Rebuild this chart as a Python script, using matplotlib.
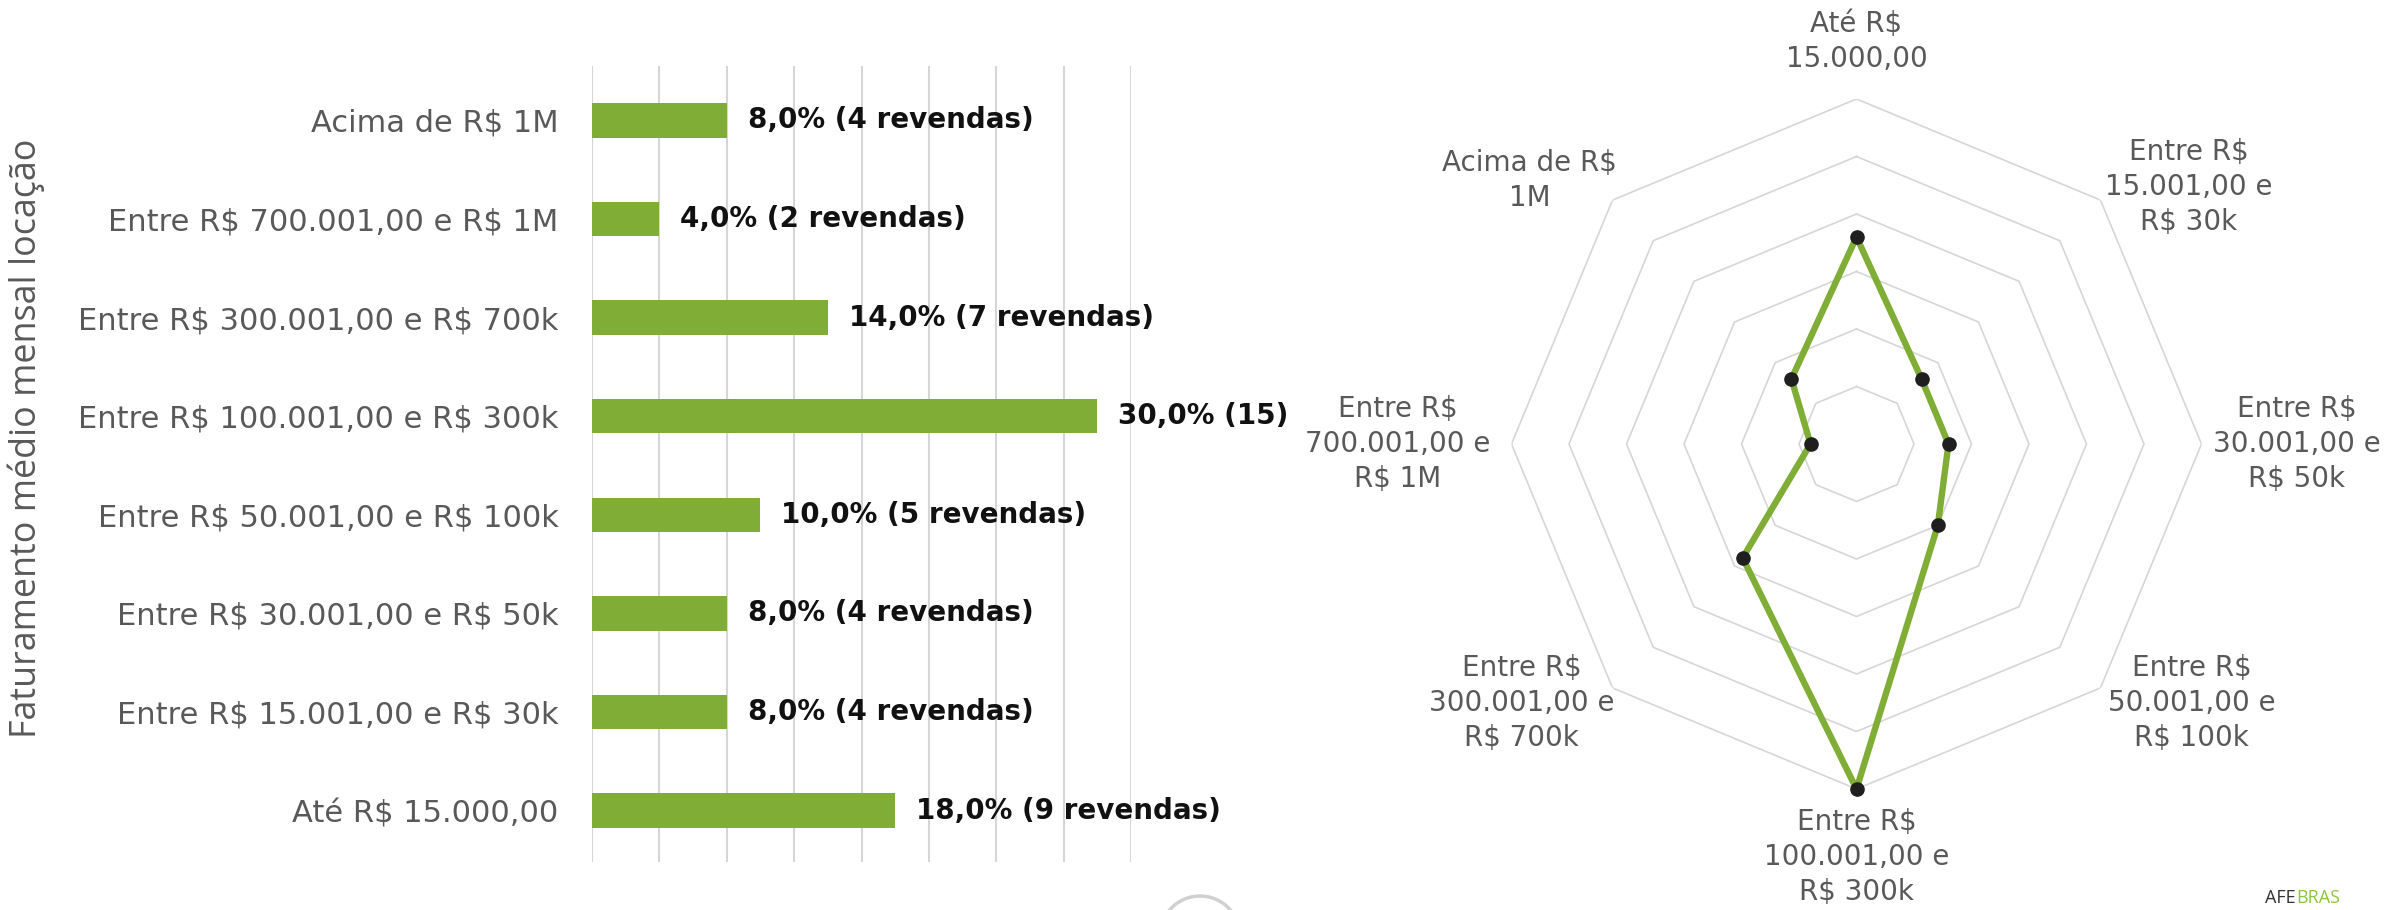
import textwrap
import numpy as np
import matplotlib
matplotlib.use("Agg")
import matplotlib.pyplot as plt
from matplotlib.patches import Circle

plt.rcParams["text.parse_math"] = False

# categories, bottom to top (bar chart) == clockwise from top (radar)
categories = [
    "Até R$ 15.000,00",
    "Entre R$ 15.001,00 e R$ 30k",
    "Entre R$ 30.001,00 e R$ 50k",
    "Entre R$ 50.001,00 e R$ 100k",
    "Entre R$ 100.001,00 e R$ 300k",
    "Entre R$ 300.001,00 e R$ 700k",
    "Entre R$ 700.001,00 e R$ 1M",
    "Acima de R$ 1M",
]
percent = [18.0, 8.0, 8.0, 10.0, 30.0, 14.0, 4.0, 8.0]
revendas = [9, 4, 4, 5, 15, 7, 2, 4]
value_labels = [
    "18,0% (9 revendas)",
    "8,0% (4 revendas)",
    "8,0% (4 revendas)",
    "10,0% (5 revendas)",
    "30,0% (15)",
    "14,0% (7 revendas)",
    "4,0% (2 revendas)",
    "8,0% (4 revendas)",
]
y_title = "Faturamento médio mensal locação"
radar_rings = [5, 10, 15, 20, 25, 30]

GREEN = "#80AD35"
GREY_TXT = "#595959"
GRID = "#d6d6d6"
FONT = "DejaVu Sans"

W, H = 2386, 910
fig = plt.figure(figsize=(W / 100, H / 100), dpi=100)

# ---------- bar chart ----------
ax = fig.add_axes([592 / W, 48 / H, 539 / W, 796 / H])
ypos = np.arange(len(categories))
ax.barh(ypos, percent, height=0.35, color=GREEN, zorder=3)
ax.set_xlim(0, 32)
ax.set_ylim(-0.52, 7.55)
ax.set_xticks(np.arange(0, 33, 4))
ax.set_xticklabels([])
ax.tick_params(axis="x", length=0)
ax.tick_params(axis="y", length=0, pad=24)
ax.set_yticks(ypos)
ax.set_yticklabels(categories, fontsize=22, color=GREY_TXT, family=FONT)
ax.grid(axis="x", color=GRID, linewidth=1.5, zorder=0)
for s in ax.spines.values():
    s.set_visible(False)
for y, v, lab in zip(ypos, percent, value_labels):
    ax.annotate(lab, (v, y), xytext=(15, 0), textcoords="offset points",
                va="center", ha="left", fontsize=20, fontweight="bold",
                color="#111111", family=FONT)

fig.text(26 / W, 1 - 438 / H, y_title, rotation=90, ha="center", va="center",
         fontsize=25.8, color=GREY_TXT, family="Open Sans")

# ---------- radar chart ----------
cx, cy, R = 1856.5, 444, 345
rax = fig.add_axes([(cx - R) / W, (H - cy - R) / H, 2 * R / W, 2 * R / H],
                   projection="polar")
rax.set_theta_zero_location("N")
rax.set_theta_direction(-1)
rax.set_ylim(0, 30)
rax.grid(False)
rax.spines["polar"].set_visible(False)
rax.set_xticks([])
rax.set_yticks([])
rax.patch.set_alpha(0)

n = len(categories)
theta = np.linspace(0, 2 * np.pi, n, endpoint=False)
theta_c = np.append(theta, theta[0])
for ring in radar_rings:
    rax.plot(theta_c, [ring] * (n + 1), color=GRID, linewidth=1.2, zorder=1)

vals = np.append(percent, percent[0])
rax.plot(theta_c, vals, color=GREEN, linewidth=4.6, zorder=3,
         solid_joinstyle="miter", clip_on=False)
rax.plot(theta, percent, "o", color="#1f1f1f", markersize=9.5, zorder=4,
         clip_on=False)

# label placement (theta in degrees clockwise from top, radius in data units)
lab_theta = [0, 52.3, 90, 127.7, 180, 232.3, 270, 308.9]
lab_r = [35.0, 36.5, 38.3, 36.8, 35.9, 36.8, 39.9, 36.5]
for cat, t, r in zip(categories, lab_theta, lab_r):
    rax.text(np.deg2rad(t), r, textwrap.fill(cat, 12), ha="center", va="center",
             multialignment="center", fontsize=20, color=GREY_TXT, family=FONT,
             linespacing=1.32, clip_on=False)

# decorative bits at the bottom edge (page widget + logo)
fig.patches.append(Circle((12.0, -0.26), 0.40, transform=fig.dpi_scale_trans,
                          facecolor="white", edgecolor="#d0d0d0", linewidth=2.5))
fig.text(2296 / W, 3 / H, "AFE", color="#333333", fontsize=13, ha="right",
         va="bottom", family="Open Sans")
fig.text(2296 / W, 3 / H, "BRAS", color="#8cc63f", fontsize=13, ha="left",
         va="bottom", family="Open Sans")

fig.savefig("out.png", dpi=100, facecolor="white")
